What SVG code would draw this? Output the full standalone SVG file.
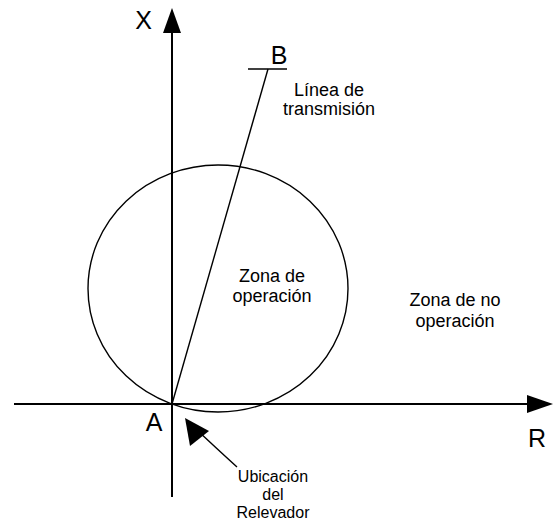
<svg xmlns="http://www.w3.org/2000/svg" width="557" height="523" viewBox="0 0 557 523">
<style>
text{font-family:"Liberation Sans",Arial,sans-serif;fill:#000;text-anchor:middle}
.s{font-size:18px}
.u{font-size:16px}
.b{font-size:25px}
.ax{stroke:#000;stroke-width:2;fill:none}
.thin{stroke:#000;stroke-width:1.4;fill:none}
</style>
<rect width="557" height="523" fill="#fff"/>
<g id="connectors">
<line class="ax" x1="172" y1="30" x2="172" y2="497"/>
<polygon points="172,8 163,33 181,33" fill="#000"/>
<line class="ax" x1="14" y1="404" x2="530" y2="404"/>
<polygon points="553,404 527,395 527,413" fill="#000"/>
<line class="thin" x1="172" y1="404" x2="268" y2="69"/>
<line class="thin" x1="248" y1="69" x2="287" y2="69"/>
<path class="thin" d="M237,467 Q215,447 197,430"/>
<polygon points="185,418 190,446 209,431" fill="#000"/>
</g>
<g id="circle"><ellipse class="thin" cx="218" cy="288.5" rx="130" ry="123.5"/></g>
<g id="labelX"><text class="b" x="143.5" y="29">X</text></g>
<g id="labelB"><text class="b" x="279" y="64">B</text></g>
<g id="labelA"><text class="b" x="154" y="431">A</text></g>
<g id="labelR"><text class="b" x="537" y="447">R</text></g>
<g id="linea"><text class="s" x="329" y="96">Línea de</text><text class="s" x="329" y="115">transmisión</text></g>
<g id="zonaop"><text class="s" x="272" y="282">Zona de</text><text class="s" x="272" y="302">operación</text></g>
<g id="zonanoop"><text class="s" x="455" y="306">Zona de no</text><text class="s" x="455" y="327">operación</text></g>
<g id="ubicacion"><text class="u" x="273" y="482">Ubicación</text><text class="u" x="273" y="500">del</text><text class="u" x="273" y="518">Relevador</text></g>
</svg>
